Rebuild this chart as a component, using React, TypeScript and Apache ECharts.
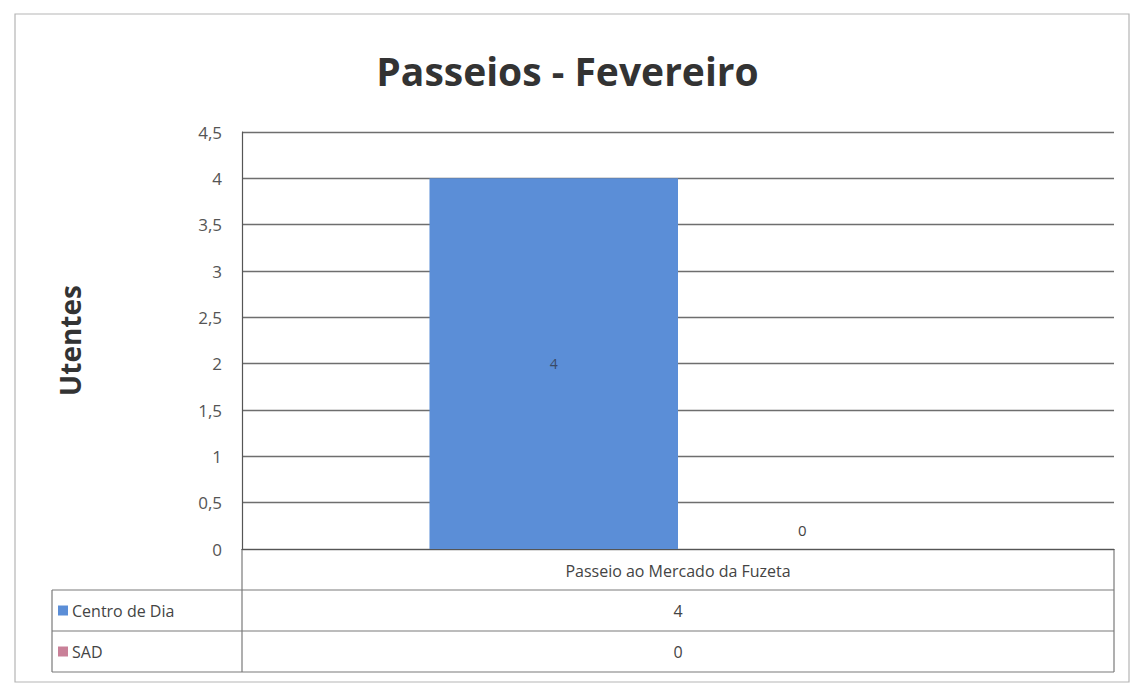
import React, { useEffect, useRef } from "react";
import * as echarts from "echarts";

const titleText = "Passeios - Fevereiro";
const yAxisName = "Utentes";
const categories = ["Passeio ao Mercado da Fuzeta"];
const seriesNames = ["Centro de Dia", "SAD"];
const centroDeDia = [4];
const sad = [0];
const seriesColors = ["#5b8ed7", "#c98098"];
const yMin = 0;
const yMax = 4.5;
const yInterval = 0.5;

const W = 1135;
const H = 688;
const gridLeft = 242;
const gridRight = 1114;
const gridTop = 132;
const gridBottom = 549;
const rowH = 41;
const legendLeft = 52;

export default function App() {
  const ref = useRef<HTMLDivElement>(null);
  useEffect(() => {
    if (!ref.current) return;
    const chart = echarts.init(ref.current, null, { renderer: "svg" });
    const font = "'Open Sans', 'Noto Sans', sans-serif";
    const lineStyle = { stroke: "#7a7a7a", lineWidth: 1.2 };
    const allSeries = [centroDeDia, sad];
    const graphic: any[] = [];
    // outer chart border
    graphic.push({
      type: "rect",
      shape: { x: 15, y: 14, width: 1114, height: 668 },
      style: { fill: "none", stroke: "#b5b5b5", lineWidth: 1.2 },
      silent: true,
    });
    // table lines
    const row1 = gridBottom + rowH;
    const row2 = row1 + rowH;
    const row3 = row2 + rowH;
    graphic.push({ type: "line", shape: { x1: gridLeft, y1: gridBottom, x2: gridLeft, y2: row3 }, style: lineStyle });
    graphic.push({ type: "line", shape: { x1: gridRight, y1: gridBottom, x2: gridRight, y2: row3 }, style: lineStyle });
    graphic.push({ type: "line", shape: { x1: legendLeft, y1: row1, x2: legendLeft, y2: row3 }, style: lineStyle });
    [row1, row2, row3].forEach((y) => {
      graphic.push({ type: "line", shape: { x1: legendLeft, y1: y, x2: gridRight, y2: y }, style: lineStyle });
    });
    seriesNames.forEach((name, i) => {
      const cy = row1 + rowH * i + rowH / 2;
      graphic.push({
        type: "rect",
        shape: { x: legendLeft + 6, y: cy - 5, width: 10, height: 10 },
        style: { fill: seriesColors[i] },
      });
      graphic.push({
        type: "text",
        x: legendLeft + 20,
        y: cy,
        style: { text: name, font: `16px ${font}`, fill: "#444", textVerticalAlign: "middle", textAlign: "left" },
      });
      allSeries[i].forEach((v, j) => {
        const cw = (gridRight - gridLeft) / categories.length;
        graphic.push({
          type: "text",
          x: gridLeft + cw * j + cw / 2,
          y: cy,
          style: { text: String(v), font: `16px ${font}`, fill: "#444", textVerticalAlign: "middle", textAlign: "center" },
        });
      });
    });

    chart.setOption({
      animation: false,
      backgroundColor: "#ffffff",
      title: {
        text: titleText,
        left: "center",
        top: 46,
        textStyle: { fontFamily: font, fontSize: 39, fontWeight: "bold", color: "#333" },
      },
      grid: { left: gridLeft, right: W - gridRight, top: gridTop, bottom: H - gridBottom },
      xAxis: {
        type: "category",
        data: categories,
        axisLine: { show: true, lineStyle: { color: "#555", width: 1.2 } },
        axisTick: { show: false },
        axisLabel: { margin: 14, fontFamily: font, fontSize: 16, color: "#444" },
      },
      yAxis: {
        type: "value",
        min: yMin,
        max: yMax,
        interval: yInterval,
        name: yAxisName,
        nameLocation: "middle",
        nameGap: 158,
        nameRotate: 90,
        nameTextStyle: { fontFamily: font, fontSize: 28, fontWeight: "bold", color: "#333" },
        axisLine: { show: true, lineStyle: { color: "#555", width: 1.2 } },
        axisTick: { show: false },
        axisLabel: {
          margin: 20,
          fontFamily: font,
          fontSize: 17,
          color: "#555",
          formatter: (v: number) => String(v).replace(".", ","),
        },
        splitLine: { show: true, lineStyle: { color: "#6e6e6e", width: 1.3 } },
      },
      series: [
        {
          name: seriesNames[0],
          type: "bar",
          data: centroDeDia,
          barGap: "0%",
          barCategoryGap: "43%",
          itemStyle: { color: seriesColors[0] },
          label: { show: true, position: "inside", fontFamily: font, fontSize: 14, color: "#3a4a66" },
        },
        {
          name: seriesNames[1],
          type: "bar",
          data: sad,
          barGap: "0%",
          barCategoryGap: "43%",
          itemStyle: { color: seriesColors[1] },
          label: { show: true, position: "top", distance: 12, fontFamily: font, fontSize: 15, color: "#444" },
        },
      ],
      graphic,
    });
    return () => chart.dispose();
  }, []);
  return (
    <div
      ref={ref}
      style={{ position: "fixed", left: 0, top: 0, width: W, height: H }}
    />
  );
}
